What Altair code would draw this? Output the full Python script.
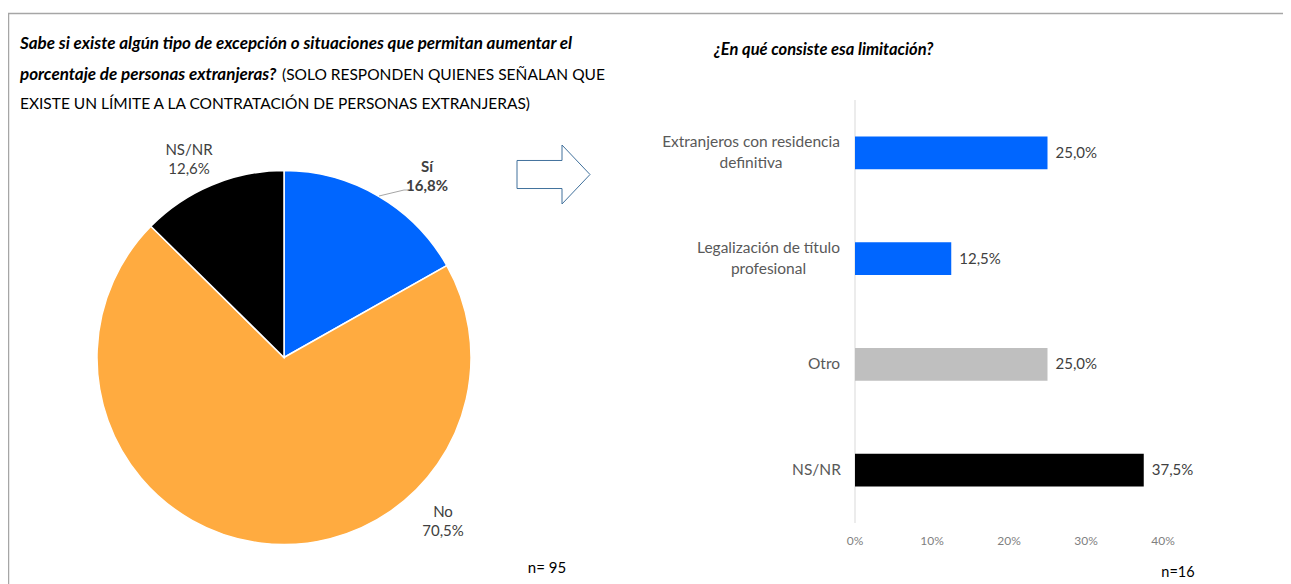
import altair as alt
import pandas as pd

# ---------------- data ----------------
pie_cats = ["Sí", "No", "NS/NR"]
pie_vals = [16.8, 70.5, 12.6]

bar_cats = ["Extranjeros con residencia definitiva", "Legalización de título profesional", "Otro", "NS/NR"]
bar_vals = [25.0, 12.5, 25.0, 37.5]
bar_label_lines = ["Extranjeros con residencia\ndefinitiva", "Legalización de título\nprofesional", "Otro", "NS/NR"]
x_ticks = [0, 10, 20, 30, 40]

n_pie = "n= 95"
n_bar = "n=16"

q_left_bold_1 = "Sabe si existe algún tipo de excepción o situaciones que permitan aumentar el"
q_left_bold_2 = "porcentaje de personas extranjeras?"
q_left_norm_2 = "(SOLO RESPONDEN QUIENES SEÑALAN QUE"
q_left_norm_3 = "EXISTE UN LÍMITE A LA CONTRATACIÓN DE PERSONAS EXTRANJERAS)"
q_right = "¿En qué consiste esa limitación?"

# ---------------- styles ----------------
FONT = "Lato"
LABEL_COLOR = "#404040"
CAT_COLOR = "#595959"
TICK_COLOR = "#7F7F7F"
color_domain = ["Sí", "No", "NS/NR", bar_cats[0], bar_cats[1], "Otro"]
color_range = ["#0066FF", "#FFAB40", "#000000", "#0066FF", "#0066FF", "#BFBFBF"]
color = alt.Color("cat:N", scale=alt.Scale(domain=color_domain, range=color_range), legend=None)


def pct(v):
    return f"{v:.1f}%".replace(".", ",")


xscale = alt.Scale(domain=[0, 40], range=[847, 1155], nice=False)
yscale = alt.Scale(domain=bar_cats, range=[92, 515], paddingInner=0.69, paddingOuter=0.345)

one = pd.DataFrame({"k": [0]})


def txt(text, x, y, size=15, weight="normal", style="normal", col=LABEL_COLOR,
        align="center", baseline="middle", lh=20):
    return alt.Chart(pd.DataFrame({"t": [text]})).mark_text(
        font=FONT, fontSize=size, fontWeight=weight, fontStyle=style, color=col,
        align=align, baseline=baseline, lineBreak="\n", lineHeight=lh
    ).encode(text="t:N", x=alt.value(x), y=alt.value(y))


def rule(x1, y1, x2, y2, col="#A6A6A6", w=1.0):
    return alt.Chart(one).mark_rule(color=col, strokeWidth=w).encode(
        x=alt.value(x1), y=alt.value(y1), x2=alt.value(x2), y2=alt.value(y2))


# ---------------- pie ----------------
pie_df = pd.DataFrame({"cat": pie_cats, "val": pie_vals, "ord": list(range(len(pie_cats)))})
pie = alt.Chart(pie_df).mark_arc(radius=187, stroke="white", strokeWidth=1.5).encode(
    theta=alt.Theta("val:Q", stack=True),
    order=alt.Order("ord:Q"),
    color=color,
    x=alt.value(276), y=alt.value(349.5),
)

pie_label_pos = {"Sí": (419, 159), "No": (435, 504), "NS/NR": (181, 142)}
pie_labels = []
for c, v in zip(pie_cats, pie_vals):
    px, py = pie_label_pos[c]
    pie_labels.append(txt(f"{c}\n{pct(v)}", px, py, weight="bold" if c == "Sí" else "normal", lh=19))

leader = rule(371, 188, 396, 182) + rule(396, 182, 401, 182)

# arrow
arrow = alt.Chart(one).mark_point(
    shape="M-1,-0.384L0.233,-0.384L0.233,-0.808L1,0L0.233,0.808L0.233,0.384L-1,0.384Z",
    size=5329, filled=False, fill="white", stroke="#41719C", strokeWidth=1, opacity=1
).encode(x=alt.value(545.5), y=alt.value(166.5))

# ---------------- bars ----------------
bar_df = pd.DataFrame({"cat": bar_cats, "val": bar_vals, "lab": [pct(v) for v in bar_vals]})
label_dx = {bar_cats[0]: -104, bar_cats[1]: -86.5, "Otro": -31, "NS/NR": -38.5}

bars = alt.Chart(bar_df).mark_bar().encode(
    x=alt.X("val:Q", scale=xscale, axis=None),
    y=alt.Y("cat:N", scale=yscale, axis=None, sort=bar_cats),
    color=color,
)
bar_text = alt.Chart(bar_df).mark_text(
    font=FONT, fontSize=15, color=LABEL_COLOR, align="left", baseline="middle", dx=8
).encode(
    x=alt.X("val:Q", scale=xscale, axis=None),
    y=alt.Y("cat:N", scale=yscale, axis=None, sort=bar_cats),
    text="lab:N",
)
cat_layers = []
for c, line in zip(bar_cats, bar_label_lines):
    d = pd.DataFrame({"cat": [c], "line": [line], "z": [0]})
    n_lines = line.count("\n") + 1
    cat_layers.append(alt.Chart(d).mark_text(
        font=FONT, fontSize=15.5, color=CAT_COLOR, align="center", baseline="middle",
        lineBreak="\n", lineHeight=21, dx=label_dx[c], dy=-10.5 * (n_lines - 1)
    ).encode(
        x=alt.X("z:Q", scale=xscale, axis=None),
        y=alt.Y("cat:N", scale=yscale, axis=None, sort=bar_cats),
        text="line:N",
    ))

yaxis_line = alt.Chart(one).mark_rule(color="#D9D9D9", strokeWidth=1).encode(
    x=alt.X("k:Q", scale=xscale, axis=None), y=alt.value(92), y2=alt.value(515))

tick_df = pd.DataFrame({"t": x_ticks, "lab": [f"{t}%" for t in x_ticks]})
tick_text = alt.Chart(tick_df).mark_text(
    font=FONT, fontSize=12, color=TICK_COLOR, align="center", baseline="middle"
).encode(x=alt.X("t:Q", scale=xscale, axis=None), y=alt.value(533), text="lab:N")

# ---------------- texts ----------------
texts = [
    txt(q_left_bold_1, 12, 36, size=17, weight="bold", style="italic", col="#000000", align="left"),
    txt(q_left_bold_2, 12, 67, size=17, weight="bold", style="italic", col="#000000", align="left"),
    txt(q_left_norm_2, 274, 67, size=15.5, col="#000000", align="left"),
    txt(q_left_norm_3, 12, 96, size=15.5, col="#000000", align="left"),
    txt(q_right, 706, 42, size=16.5, weight="bold", style="italic", col="#000000", align="left"),
    txt(n_pie, 539, 560, size=15, col="#000000"),
    txt(n_bar, 1170, 565, size=14.5, col="#000000"),
]

border = rule(0, 5.5, 1275, 5.5, col="#A6A6A6", w=1.5) + rule(0.5, 5, 0.5, 576, col="#A6A6A6", w=1.5)

chart = alt.layer(
    border, pie, *pie_labels, leader, arrow,
    yaxis_line, bars, bar_text, *cat_layers, tick_text, *texts
).resolve_scale(color="shared").properties(
    width=1275, height=576, padding=0,
    autosize=alt.AutoSizeParams(type="none"),
).configure_view(stroke=None)

chart.save("out.html", embed_options={"renderer": "svg", "actions": False})
